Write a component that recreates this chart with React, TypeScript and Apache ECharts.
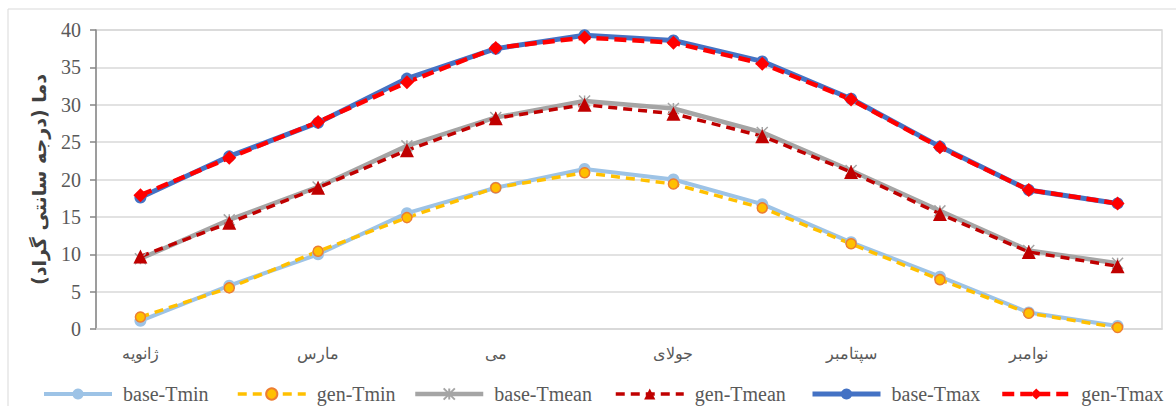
import React, { useEffect, useRef } from "react";
import * as echarts from "echarts";

const months = ["ژانویه", "فوریه", "مارس", "آوریل", "می", "ژوئن", "جولای", "اوت", "سپتامبر", "اکتبر", "نوامبر", "دسامبر"];
const baseTmin = [1.1, 5.8, 10.0, 15.5, 18.9, 21.4, 20.0, 16.7, 11.6, 7.0, 2.2, 0.4];
const genTmin = [1.6, 5.5, 10.4, 14.9, 18.9, 20.9, 19.4, 16.2, 11.4, 6.6, 2.1, 0.2];
const baseTmean = [9.4, 14.6, 19.0, 24.5, 28.3, 30.5, 29.5, 26.3, 21.2, 15.8, 10.5, 8.8];
const genTmean = [9.7, 14.2, 18.9, 23.9, 28.2, 30.0, 28.8, 25.8, 21.0, 15.4, 10.3, 8.4];
const baseTmax = [17.6, 23.1, 27.6, 33.5, 37.5, 39.3, 38.6, 35.8, 30.8, 24.4, 18.6, 16.8];
const genTmax = [17.9, 22.9, 27.7, 33.0, 37.6, 39.0, 38.3, 35.5, 30.7, 24.3, 18.6, 16.8];
const seriesNames = ["base-Tmin", "gen-Tmin", "base-Tmean", "gen-Tmean", "base-Tmax", "gen-Tmax"];
const yAxisTitle = "دما (درجه سانتی گراد)";

const legendLefts = [37, 231, 408, 609, 805, 995];
const legendWidths = [4, 3.5, 4.5, 3.5, 5, 4.5];

export default function App() {
  const ref = useRef<HTMLDivElement>(null);
  useEffect(() => {
    if (!ref.current) return;
    const chart = echarts.init(ref.current, undefined, { renderer: "svg" });
    const serif = "'Liberation Serif', 'Times New Roman', serif";
    const option: any = {
      animation: false,
      backgroundColor: "#ffffff",
      graphic: [
        {
          type: "rect",
          shape: { x: 8, y: 9, width: 1200, height: 420 },
          style: { fill: "none", stroke: "#D9D9D9", lineWidth: 1 },
          silent: true,
        },
      ],
      grid: { left: 96, right: 14, top: 30, bottom: 77, show: true, borderColor: "#D9D9D9", borderWidth: 1.5 },
      legend: seriesNames.map((n, i) => ({
        data: [n],
        left: legendLefts[i],
        top: 379,
        itemWidth: 68,
        itemHeight: 14,
        lineStyle: { width: legendWidths[i] },
        textStyle: { color: "#595959", fontSize: 20, fontFamily: serif, padding: [0, 0, 0, 6] },
      })),
      xAxis: {
        type: "category",
        data: months,
        boundaryGap: true,
        axisLine: { lineStyle: { color: "#D9D9D9", width: 1.5 } },
        axisTick: { show: false },
        axisLabel: { interval: 1, color: "#595959", fontSize: 16, margin: 16, fontFamily: "'DejaVu Serif', serif" },
      },
      yAxis: {
        type: "value",
        min: 0,
        max: 40,
        interval: 5,
        axisLine: { show: true, lineStyle: { color: "#868686", width: 1.5 } },
        axisTick: { show: true, length: 6, lineStyle: { color: "#868686", width: 1.5 } },
        splitLine: { lineStyle: { color: "#D9D9D9", width: 1.5 } },
        axisLabel: { color: "#595959", fontSize: 20, fontFamily: serif, margin: 15 },
        name: yAxisTitle,
        nameLocation: "middle",
        nameGap: 48,
        nameTextStyle: { fontWeight: "bold", fontSize: 19, color: "#404040", fontFamily: "'DejaVu Sans', sans-serif", padding: [0, 0, 0, 0] },
      },
      series: [
        {
          name: seriesNames[0],
          type: "line",
          data: baseTmin,
          symbol: "circle",
          symbolSize: 12,
          lineStyle: { color: "#9DC3E6", width: 4 },
          itemStyle: { color: "#9DC3E6" },
        },
        {
          name: seriesNames[1],
          type: "line",
          data: genTmin,
          symbol: "circle",
          symbolSize: 10,
          lineStyle: { color: "#FFC000", width: 3.5, type: [9, 6] },
          itemStyle: { color: "#FFC000", borderColor: "#ED7D31", borderWidth: 1.5 },
        },
        {
          name: seriesNames[2],
          type: "line",
          data: baseTmean,
          symbol: "path://M0,0L10,10M10,0L0,10M5,0L5,10",
          symbolSize: 11,
          lineStyle: { color: "#A5A5A5", width: 4.5 },
          itemStyle: { color: "rgba(0,0,0,0)", borderColor: "#A5A5A5", borderWidth: 1.5 },
        },
        {
          name: seriesNames[3],
          type: "line",
          data: genTmean,
          symbol: "triangle",
          symbolSize: 14,
          lineStyle: { color: "#C00000", width: 3.5, type: [9, 6] },
          itemStyle: { color: "#C00000" },
        },
        {
          name: seriesNames[4],
          type: "line",
          data: baseTmax,
          symbol: "circle",
          symbolSize: 12,
          lineStyle: { color: "#4472C4", width: 5 },
          itemStyle: { color: "#4472C4" },
        },
        {
          name: seriesNames[5],
          type: "line",
          data: genTmax,
          symbol: "diamond",
          symbolSize: 14,
          lineStyle: { color: "#FF0000", width: 4.5, type: [12, 6] },
          itemStyle: { color: "#FF0000" },
        },
      ],
    };
    chart.setOption(option);
    return () => chart.dispose();
  }, []);
  return (
    <div
      ref={ref}
      style={{ position: "fixed", left: 0, top: 0, width: 1176, height: 406, background: "#fff" }}
    />
  );
}
